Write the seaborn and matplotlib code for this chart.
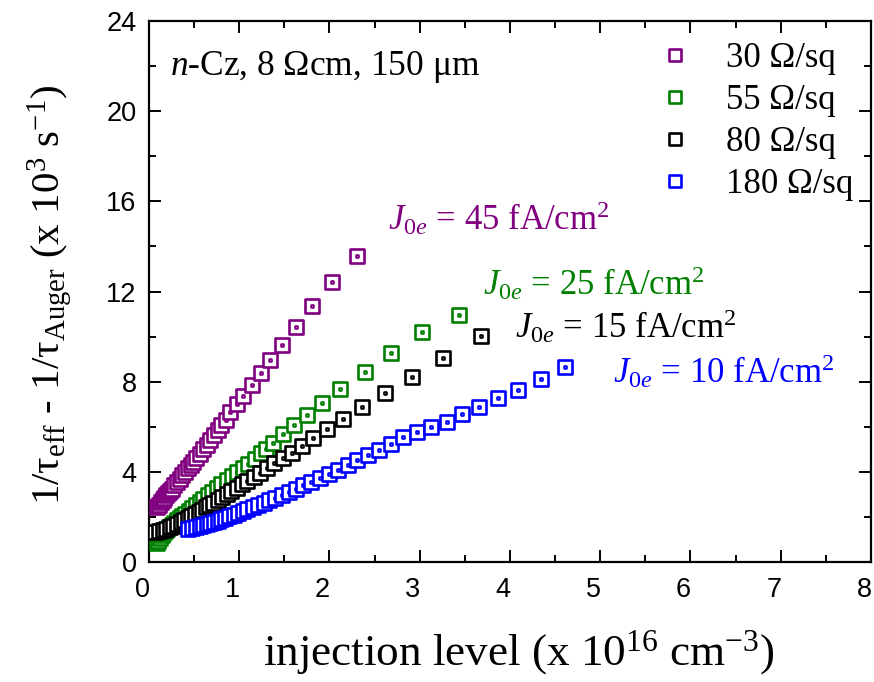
import matplotlib
matplotlib.use("Agg")
import matplotlib.pyplot as plt
from matplotlib.path import Path
from matplotlib.ticker import MultipleLocator
from matplotlib.transforms import ScaledTranslation
import pandas as pd
import seaborn as sns

# injection level (x 1e16 cm^-3) and 1/tau_eff - 1/tau_Auger (x 1e3 s^-1)
x_30 = [0.09, 0.11, 0.13, 0.15, 0.17, 0.19, 0.21, 0.23, 0.25, 0.28, 0.31, 0.34,
        0.37, 0.40, 0.43, 0.46, 0.49, 0.52, 0.56, 0.60, 0.64, 0.68, 0.72, 0.76,
        0.80, 0.85, 0.90, 0.97, 1.04, 1.14, 1.24, 1.34, 1.47, 1.63, 1.81, 2.03, 2.30]
y_30 = [2.45, 2.55, 2.65, 2.75, 2.85, 2.95, 3.05, 3.15, 3.25, 3.40, 3.55, 3.70,
        3.85, 4.00, 4.15, 4.30, 4.45, 4.60, 4.80, 5.00, 5.20, 5.40, 5.62, 5.84,
        6.06, 6.32, 6.67, 7.00, 7.38, 7.84, 8.37, 8.98, 9.64, 10.44, 11.36, 12.41, 13.57]

x_55 = [0.085, 0.10, 0.12, 0.14, 0.16, 0.18, 0.20, 0.22, 0.25, 0.28, 0.31, 0.34,
        0.37, 0.40, 0.44, 0.48, 0.52, 0.56, 0.60, 0.65, 0.70, 0.75, 0.80, 0.86,
        0.92, 0.98, 1.04, 1.10, 1.17, 1.24, 1.30, 1.37, 1.48, 1.61, 1.75, 1.92,
        2.12, 2.39, 2.68, 3.03, 3.44]
y_55 = [0.83, 0.95, 1.08, 1.20, 1.30, 1.39, 1.47, 1.55, 1.65, 1.75, 1.85, 1.95,
        2.05, 2.15, 2.28, 2.41, 2.54, 2.67, 2.80, 2.96, 3.12, 3.28, 3.44, 3.62,
        3.80, 3.98, 4.16, 4.36, 4.58, 4.82, 5.02, 5.29, 5.67, 6.08, 6.51, 7.07,
        7.68, 8.42, 9.29, 10.22, 10.96]

x_80 = [0.066, 0.11, 0.15, 0.19, 0.23, 0.27, 0.31, 0.35, 0.39, 0.43, 0.47, 0.51,
        0.55, 0.59, 0.63, 0.67, 0.71, 0.76, 0.81, 0.86, 0.91, 0.97, 1.03, 1.09,
        1.16, 1.23, 1.31, 1.39, 1.48, 1.58, 1.69, 1.82, 1.97, 2.15, 2.36, 2.61,
        2.91, 3.26, 3.68]
y_80 = [1.34, 1.38, 1.42, 1.47, 1.53, 1.61, 1.69, 1.77, 1.86, 1.95, 2.04, 2.13,
        2.22, 2.32, 2.42, 2.52, 2.62, 2.75, 2.88, 3.01, 3.14, 3.29, 3.45, 3.61,
        3.79, 3.97, 4.17, 4.38, 4.60, 4.85, 5.15, 5.49, 5.89, 6.34, 6.89, 7.48,
        8.22, 9.04, 10.03]

x_180 = [0.43, 0.48, 0.52, 0.56, 0.60, 0.64, 0.68, 0.72, 0.76, 0.80, 0.84, 0.89,
         0.94, 0.99, 1.04, 1.09, 1.15, 1.21, 1.27, 1.33, 1.40, 1.47, 1.55, 1.63,
         1.71, 1.80, 1.89, 1.99, 2.09, 2.20, 2.31, 2.43, 2.55, 2.68, 2.82, 2.97,
         3.13, 3.30, 3.47, 3.66, 3.87, 4.09, 4.34, 4.61]
y_180 = [1.46, 1.50, 1.54, 1.58, 1.62, 1.67, 1.72, 1.77, 1.83, 1.89, 1.95, 2.02,
         2.09, 2.17, 2.25, 2.33, 2.43, 2.53, 2.63, 2.74, 2.86, 2.98, 3.12, 3.26,
         3.41, 3.57, 3.73, 3.91, 4.10, 4.30, 4.51, 4.73, 4.96, 5.23, 5.56, 5.78,
         6.00, 6.22, 6.55, 6.89, 7.26, 7.63, 8.12, 8.67]

sheet_labels = ["30 Ω/sq", "55 Ω/sq", "80 Ω/sq", "180 Ω/sq"]
j0e_values = [45, 25, 15, 10]
series_x = [x_30, x_55, x_80, x_180]
series_y = [y_30, y_55, y_80, y_180]

colors = ["#800080", "#008000", "#000000", "#0000ff"]
# where each J0e label starts (data coordinates, baseline)
j0e_pos = [(2.65, 14.75), (3.70, 11.85), (4.06, 9.95), (5.14, 7.95)]

sns.set_style("ticks")
plt.rcParams.update({
    "font.family": ["Liberation Serif", "DejaVu Serif"],
    "mathtext.fontset": "custom",
    "mathtext.rm": "Liberation Serif",
    "mathtext.it": "Liberation Serif:italic",
    "mathtext.bf": "Liberation Serif:bold",
    "text.color": "black",
    "axes.labelcolor": "black",
    "xtick.color": "black",
    "ytick.color": "black",
})

# open square with a centre dot, drawn as one marker
d = 0.04
box_dot = Path(
    [(-0.5, -0.5), (0.5, -0.5), (0.5, 0.5), (-0.5, 0.5), (-0.5, -0.5),
     (-d, -d), (d, -d), (d, d), (-d, d), (-d, -d)],
    [Path.MOVETO, Path.LINETO, Path.LINETO, Path.LINETO, Path.CLOSEPOLY] * 2,
)

fig = plt.figure(figsize=(8.74, 6.82), dpi=100)
ax = fig.add_axes([0.1705, 0.176, 0.826, 0.793])

for lab, xs, ys, c in zip(sheet_labels, series_x, series_y, colors):
    df = pd.DataFrame({"inj": xs, "rate": ys})
    sns.scatterplot(data=df, x="inj", y="rate", ax=ax, marker=box_dot, s=112,
                    facecolor="white", edgecolor=c, linewidth=1.9, label=lab,
                    zorder=3)

for j, (tx, ty), c in zip(j0e_values, j0e_pos, colors):
    ax.text(tx, ty, r"$\mathit{J}_{\mathit{0e}}$ = " + f"{j} fA/cm" + r"$^{2}$",
            color=c, fontsize=25, va="baseline", ha="left")

ax.text(0.029, 0.915, r"$\mathit{n}$-Cz, 8 Ωcm, 150 μm", transform=ax.transAxes,
        fontsize=25.5, va="center", ha="left")

ax.set_xlim(0, 8)
ax.set_ylim(0, 24)
ax.xaxis.set_major_locator(MultipleLocator(1))
ax.xaxis.set_minor_locator(MultipleLocator(0.5))
ax.yaxis.set_major_locator(MultipleLocator(4))
ax.yaxis.set_minor_locator(MultipleLocator(2))
ax.tick_params(which="both", direction="in", top=True, right=True, width=1.4,
               labelsize=19.5, labelfontfamily="Liberation Sans")
ax.tick_params(which="major", length=8.5)
ax.tick_params(which="minor", length=5)
ax.tick_params(axis="x", pad=11)
ax.tick_params(axis="y", pad=9)
for sp in ax.spines.values():
    sp.set_linewidth(1.6)
    sp.set_color("black")

# nudge the x tick labels slightly left so the last one stays inside
shift = ScaledTranslation(-5 / 72, 0, fig.dpi_scale_trans)
for lbl in ax.get_xticklabels():
    lbl.set_transform(lbl.get_transform() + shift)

ax.set_xlabel(r"injection level (x 10$^{16}$ cm$^{-3}$)", fontsize=32.5)
ax.set_ylabel(r"1/τ$_{\mathrm{eff}}$ - 1/τ$_{\mathrm{Auger}}$ (x 10$^{3}$ s$^{-1}$)",
              fontsize=29.5)
ax.xaxis.set_label_coords(0.512, -0.122)
ax.yaxis.set_label_coords(-0.104, 0.494)

ax.legend(loc="upper left", bbox_to_anchor=(0.706, 0.962), frameon=False,
          borderpad=0, borderaxespad=0, handlelength=0.95, handletextpad=1.0,
          labelspacing=0.26, scatteryoffsets=[0.5], markerscale=0.85,
          prop={"family": "Liberation Serif", "size": 25})

fig.savefig("out.png", dpi=100)
